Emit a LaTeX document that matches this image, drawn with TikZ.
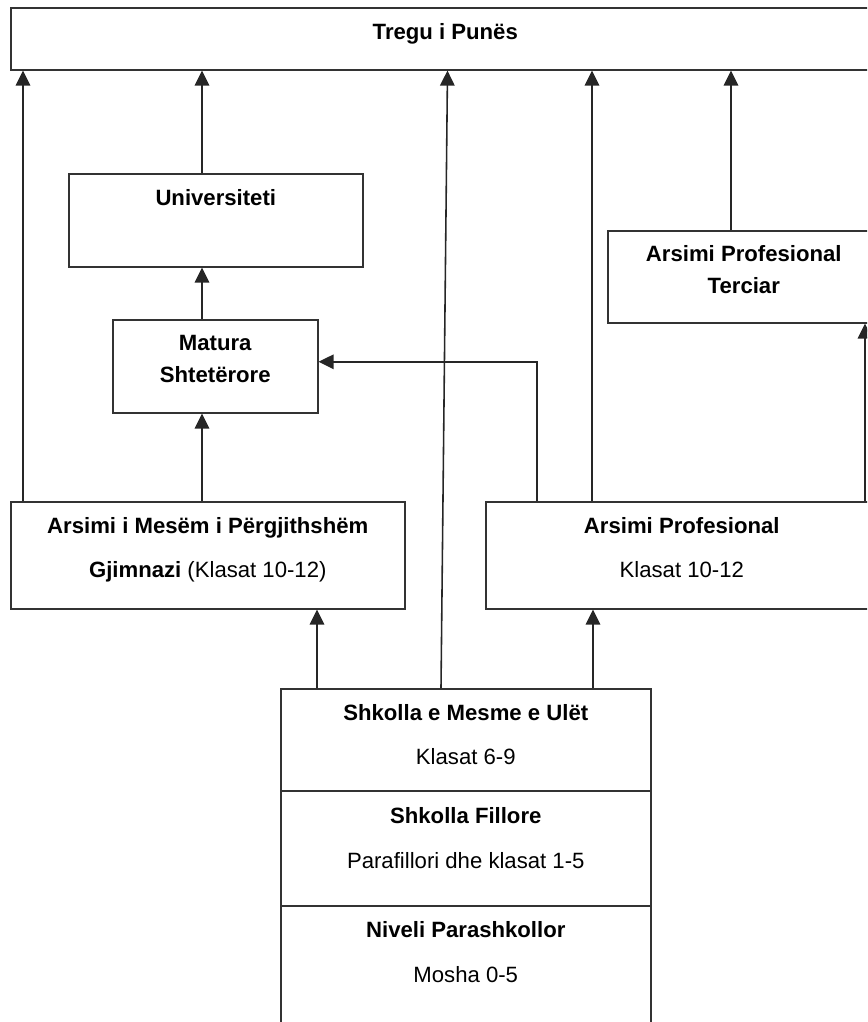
\documentclass[tikz,border=0pt]{standalone}
\usepackage{fontspec}
\setmainfont{Liberation Sans}
\usepackage{tikz}
\usetikzlibrary{arrows.meta}
\newlength{\pix}\setlength{\pix}{0.02cm}
% box text: width, height, first baseline, lines
\newcommand{\Lvl}[4]{\parbox[c][#2\pix][t]{#1\pix}{\centering\rule{0pt}{#3\pix}#4}}

\begin{document}
\begin{tikzpicture}[
x=0.02cm, y=-0.02cm,
Level/.style={draw=black!80, line width=0.9pt, inner sep=0pt, anchor=north west,
  font=\fontsize{12.6}{18}\selectfont},
Arrow/.style={draw=black!85, line width=0.9pt, -{Triangle[length=3mm, width=2.9mm]}}
]
\useasboundingbox (0,0) rectangle (867,1022);
\clip (0,0) rectangle (867,1022);

% the levels
\node[Level] (treg) at (10,7) {\Lvl{869}{62}{32}{\textbf{Tregu i Punës}}};
\node[Level] (univ) at (68,173) {\Lvl{294}{93}{32}{\textbf{Universiteti}}};
\node[Level] (terc) at (607,230) {\Lvl{272}{92}{31}{\textbf{Arsimi Profesional}\\\textbf{Terciar}}};
\node[Level] (mat) at (112,319) {\Lvl{205}{93}{31}{\textbf{Matura}\\\textbf{Shtetërore}}};
\node[Level] (mes) at (10,501) {\Lvl{394}{107}{32}{\textbf{Arsimi i Mesëm i Përgjithshëm}\\[12\pix]\textbf{Gjimnazi} (Klasat 10-12)}};
\node[Level] (prof) at (485,501) {\Lvl{392}{107}{32}{\textbf{Arsimi Profesional}\\[12\pix]Klasat 10-12}};
\node[Level] (shk) at (280,688) {\Lvl{370}{102}{32}{\textbf{Shkolla e Mesme e Ulët}\\[12\pix]Klasat 6-9}};
\node[Level] (fil) at (280,790) {\Lvl{370}{115}{33}{\textbf{Shkolla Fillore}\\[13\pix]Parafillori dhe klasat 1-5}};
\node[Level] (niv) at (280,905) {\Lvl{370}{130}{32}{\textbf{Niveli Parashkollor}\\[13\pix]Mosha 0-5}};

% where the arrows leave the boxes
\coordinate (mesA) at ([xshift=13\pix]mes.north west);
\coordinate (mesB) at ([xshift=192\pix]mes.north west);
\coordinate (univA) at ([xshift=134\pix]univ.north west);
\coordinate (matA) at ([xshift=90\pix]mat.north west);
\coordinate (matE) at ([yshift=4.5\pix]mat.east);
\coordinate (shkA) at ([xshift=37\pix]shk.north west);
\coordinate (shkB) at ([xshift=161\pix]shk.north west);
\coordinate (shkC) at ([xshift=313\pix]shk.north west);
\coordinate (profA) at ([xshift=52\pix]prof.north west);
\coordinate (profB) at ([xshift=107\pix]prof.north west);
\coordinate (profC) at ([xshift=380\pix]prof.north west);
\coordinate (tercA) at ([xshift=124\pix]terc.north west);
\coordinate (tregA) at ([xshift=437.5\pix]treg.south west);

\draw[Arrow] (mesA) -- (mesA |- treg.south);
\draw[Arrow] (univA) -- (univA |- treg.south);
\draw[Arrow] (shkB) -- (tregA);
\draw[Arrow] (profB) -- (profB |- treg.south);
\draw[Arrow] (tercA) -- (tercA |- treg.south);

\draw[Arrow] (matA) -- (matA |- univ.south);
\draw[Arrow] (mesB) -- (mesB |- mat.south);
\draw[Arrow] (profA) |- (matE);
\draw[Arrow] (profC) -- (profC |- terc.south);

\draw[Arrow] (shkA) -- (shkA |- mes.south);
\draw[Arrow] (shkC) -- (shkC |- prof.south);

\end{tikzpicture}
\end{document}
